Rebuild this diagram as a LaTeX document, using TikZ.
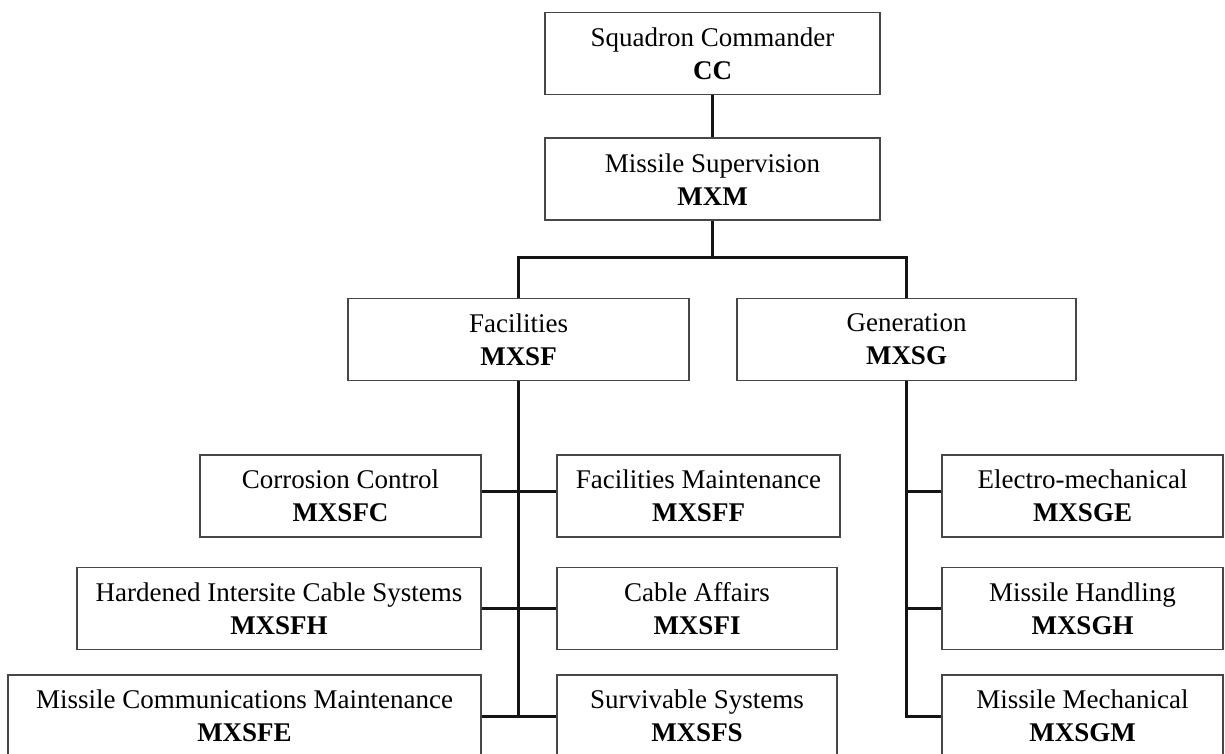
\documentclass[tikz,border=0pt]{standalone}
\usepackage{fontspec}
\setmainfont{Liberation Serif}
\usepackage{tikz}
\usetikzlibrary{positioning}

\begin{document}
\begin{tikzpicture}
          [x=1pt, y=-1pt,
           every node/.style={draw=black!72, line width=1.8pt, align=center, inner sep=0pt,
             minimum height=82pt, font=\fontsize{27}{33}\selectfont},
           link/.style={line width=3pt, black!92}]
          \useasboundingbox (0,0) rectangle (1225,753);

          % top of the chart
          \node (cc) [minimum width=335pt] at (712.5,53.5) {Squadron Commander\\\textbf{CC}};
          \node (mxm) [minimum width=335pt, below = 42pt of cc] {Missile Supervision\\\textbf{MXM}};
          \node (mxsf) [minimum width=341pt] at (518.5,339.5) {Facilities\\\textbf{MXSF}};
          \node (mxsg) [minimum width=339pt] at (906.5,339.5) {Generation\\\textbf{MXSG}};

          % facilities flights
          \node (mxsfc) [minimum width=281pt] at (340.5,496) {Corrosion Control\\\textbf{MXSFC}};
          \node (mxsff) [minimum width=283pt] at (698.5,496) {Facilities Maintenance\\\textbf{MXSFF}};
          \node (mxsfh) [minimum width=404pt] at (279,608.5) {Hardened Intersite Cable Systems\\\textbf{MXSFH}};
          \node (mxsfi) [minimum width=280pt] at (697,608.5) {Cable Affairs\\\textbf{MXSFI}};
          \node (mxsfe) [minimum width=473pt] at (244.5,716) {Missile Communications Maintenance\\\textbf{MXSFE}};
          \node (mxsfs) [minimum width=280pt] at (697,716) {Survivable Systems\\\textbf{MXSFS}};

          % generation flights
          \node (mxsge) [minimum width=281pt] at (1082.5,496) {Electro-mechanical\\\textbf{MXSGE}};
          \node (mxsgh) [minimum width=281pt] at (1082.5,608.5) {Missile Handling\\\textbf{MXSGH}};
          \node (mxsgm) [minimum width=281pt] at (1082.5,716) {Missile Mechanical\\\textbf{MXSGM}};

          \coordinate (bus) at (712.5,257);

          \draw[link] (cc) -- (mxm);
          \draw[link] (mxm) -- (bus);
          \draw[link] (mxsf.north) |- (bus) -| (mxsg.north);

          \draw[link] (mxsf.south) -- (mxsf.south |- mxsfe.east);
          \draw[link] ([yshift=5pt]mxsfc.east) -- ([yshift=5pt]mxsff.west);
          \draw[link] (mxsfh.east) -- (mxsfi.west);
          \draw[link] (mxsfe.east) -- (mxsfs.west);

          \draw[link] (mxsg.south) |- (mxsgm.west);
          \draw[link] ([yshift=5pt]mxsge.west) -- ([yshift=5pt]mxsge.west -| mxsg.south);
          \draw[link] (mxsgh.west) -- (mxsgh.west -| mxsg.south);
        \end{tikzpicture}
\end{document}
